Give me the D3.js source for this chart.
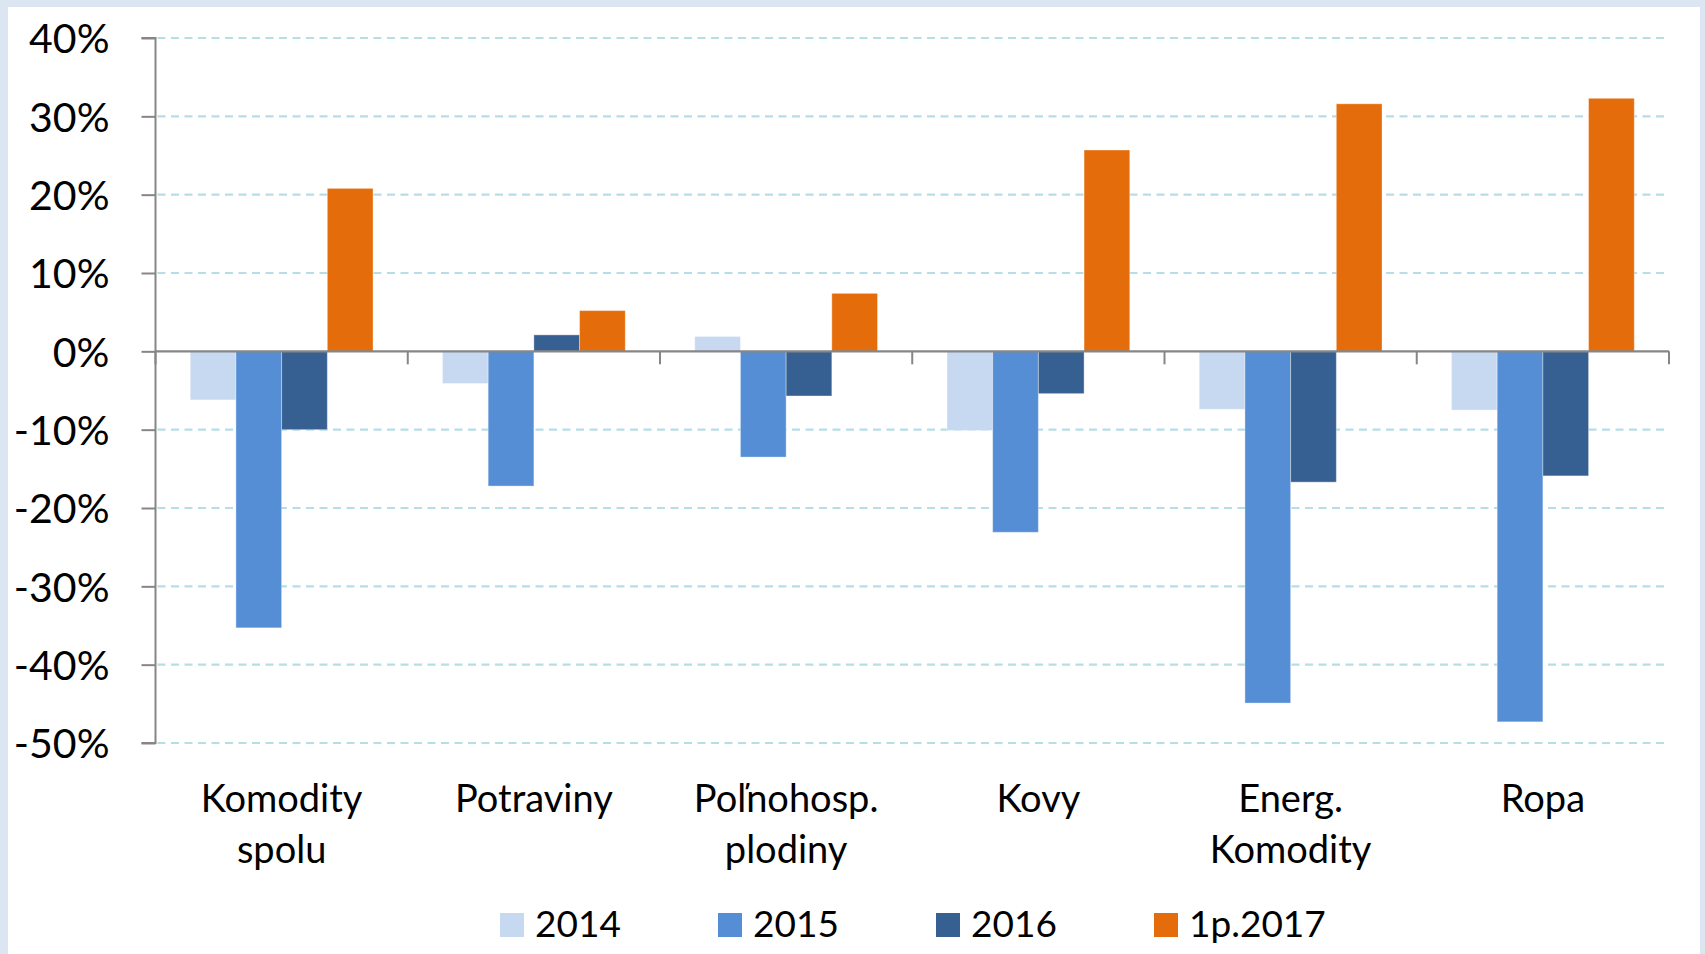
<!DOCTYPE html>
<html><head><meta charset="utf-8">
<script src="https://cdn.jsdelivr.net/npm/d3@7"></script>
<style>
html,body{margin:0;padding:0;background:#dce6f2;}
svg{display:block;}
text{font-family:Lato,"Open Sans",sans-serif;fill:#000;}
</style></head>
<body>
<svg id="chart" width="1705" height="954"></svg>
<script>
// ---- data ----
const categories = ["Komodity\nspolu", "Potraviny", "Poľnohosp.\nplodiny", "Kovy", "Energ.\nKomodity", "Ropa"];
const seriesNames = ["2014", "2015", "2016", "1p.2017"];
const values2014 = [-6.2, -4.1, 1.9, -10.1, -7.4, -7.5];
const values2015 = [-35.3, -17.2, -13.5, -23.1, -44.9, -47.3];
const values2016 = [-10.0, 2.1, -5.7, -5.4, -16.7, -15.9];
const values2017 = [20.8, 5.2, 7.4, 25.7, 31.6, 32.3];
const yTicks = [40, 30, 20, 10, 0, -10, -20, -30, -40, -50];
const colors = ["#c6d9f1", "#558ed5", "#376092", "#e46c0a"];

const allSeries = [values2014, values2015, values2016, values2017];

const svg = d3.select("#chart");
svg.append("rect").attr("x", 8).attr("y", 7).attr("width", 1692).attr("height", 954)
  .attr("fill", "#fff");

const pLeft = 155.5, pRight = 1669, pTop = 38, pBottom = 743;

const x0 = d3.scaleBand().domain(categories).range([pLeft, pRight]).paddingInner(0).paddingOuter(0);
const x1 = d3.scaleBand().domain(seriesNames).range([0, x0.bandwidth()]).paddingInner(0).paddingOuter(0.76);
const y = d3.scaleLinear().domain([-50, 40]).range([pBottom, pTop]);

// gridlines
svg.append("g").selectAll("line").data(yTicks.filter(d => d !== 0)).join("line")
  .attr("x1", pLeft + 2).attr("x2", pRight)
  .attr("y1", d => y(d)).attr("y2", d => y(d))
  .attr("stroke", "#b7dde8").attr("stroke-width", 2.2).attr("stroke-dasharray", "8,5.5");

// bars
const gCat = svg.append("g").selectAll("g").data(categories).join("g")
  .attr("transform", d => `translate(${x0(d)},0)`);
gCat.selectAll("rect").data((c, ci) => seriesNames.map((s, si) => ({s, si, v: allSeries[si][ci]})))
  .join("rect")
  .attr("x", d => x1(d.s))
  .attr("width", x1.bandwidth())
  .attr("y", d => Math.min(y(d.v), y(0)))
  .attr("height", d => Math.abs(y(d.v) - y(0)))
  .attr("fill", d => colors[d.si])
  .attr("stroke", "rgba(255,255,255,0.35)").attr("stroke-width", 1);

// y axis
const yAxis = d3.axisLeft(y).tickValues(yTicks).tickSize(14).tickFormat(d => d + "%").tickPadding(32);
const gy = svg.append("g").attr("transform", `translate(${pLeft},0)`).call(yAxis);
gy.select(".domain").attr("stroke", "#868686").attr("stroke-width", 2).attr("d", `M-14,${pTop}H0V${pBottom}H-14`);
gy.selectAll(".tick line").attr("stroke", "#868686").attr("stroke-width", 2);
gy.selectAll(".tick text").attr("font-size", 41).attr("font-family", "Lato").attr("fill", "#000").attr("dy", "0.36em");

// x axis at zero
const gx = svg.append("g").attr("transform", `translate(0,${y(0)})`);
gx.append("line").attr("x1", pLeft).attr("x2", pRight).attr("y1", 0).attr("y2", 0)
  .attr("stroke", "#868686").attr("stroke-width", 2.2);
const bounds = categories.map(c => x0(c)).concat([pRight]);
gx.selectAll("line.tk").data(bounds).join("line").attr("class", "tk")
  .attr("x1", d => d).attr("x2", d => d).attr("y1", 0).attr("y2", 13)
  .attr("stroke", "#868686").attr("stroke-width", 2);

// category labels
svg.append("g").selectAll("text").data(categories).join("text")
  .attr("text-anchor", "middle").attr("font-size", 38)
  .attr("x", d => x0(d) + x0.bandwidth() / 2).attr("y", 812)
  .each(function(d) {
    const t = d3.select(this);
    d.split("\n").forEach((line, i) => {
      t.append("tspan").attr("x", x0(d) + x0.bandwidth() / 2).attr("dy", i === 0 ? 0 : 51).text(line);
    });
  });

// legend
const legend = svg.append("g").selectAll("g").data(seriesNames).join("g")
  .attr("transform", (d, i) => `translate(${500 + i * 218},0)`);
legend.append("rect").attr("x", 0).attr("y", 913).attr("width", 24).attr("height", 24)
  .attr("fill", (d, i) => colors[i]);
legend.append("text").attr("x", 35).attr("y", 937).attr("font-size", 37).text(d => d);
</script>
</body></html>
